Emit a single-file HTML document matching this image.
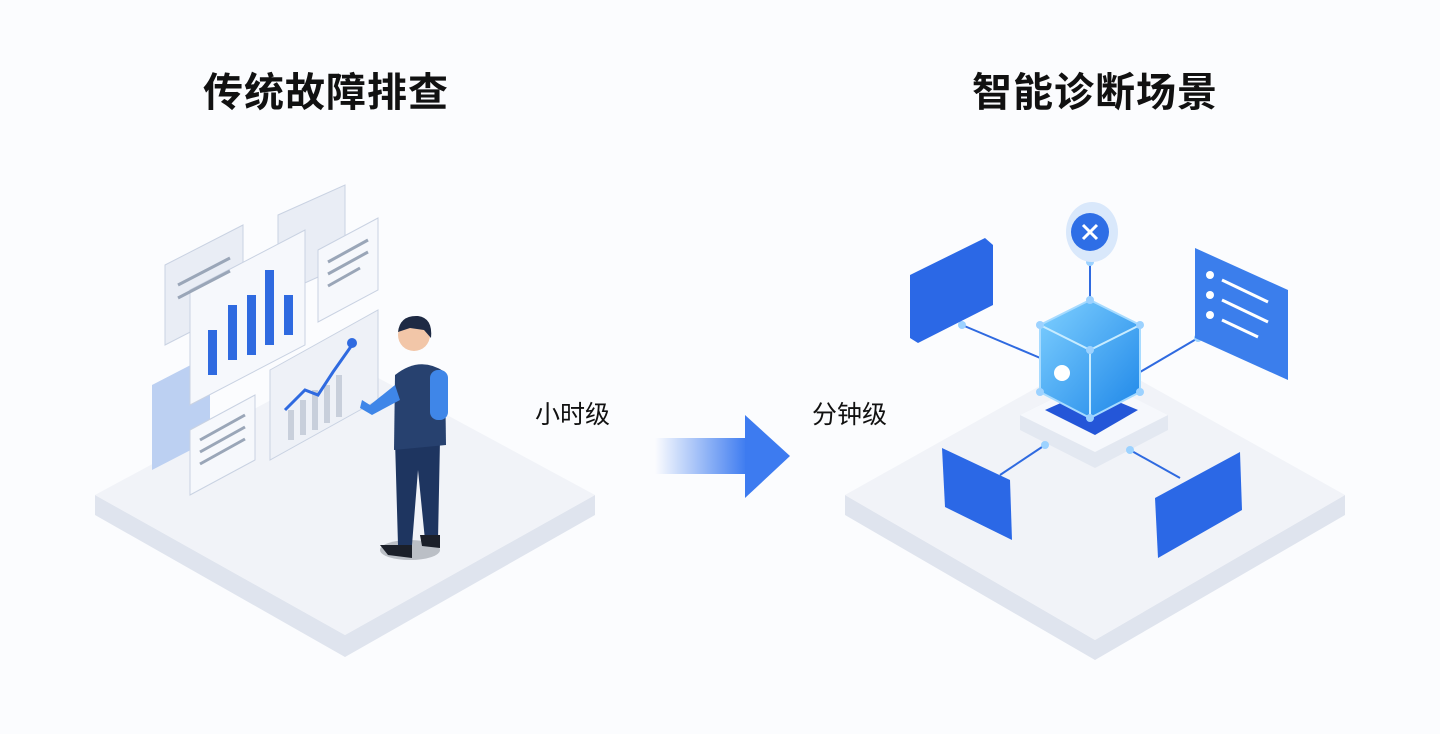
<!DOCTYPE html>
<html><head><meta charset="utf-8"><style>
html,body{margin:0;padding:0;background:#fbfcfe;}
body{width:1440px;height:734px;overflow:hidden;position:relative;font-family:"Liberation Sans","Noto Sans CJK SC",sans-serif;}
.t{position:absolute;font-weight:bold;font-size:40px;color:#111;letter-spacing:1px}
.l{position:absolute;font-size:25px;color:#111}
</style></head><body>
<svg width="1440" height="734" style="position:absolute;left:0;top:0">
<defs>
<linearGradient id="ar" x1="0" x2="1"><stop offset="0" stop-color="#3d7bf0" stop-opacity="0"/><stop offset="1" stop-color="#3d7bf0"/></linearGradient>
<linearGradient id="cube" x1="0" y1="0" x2="1" y2="1"><stop offset="0" stop-color="#7fd0ff"/><stop offset="1" stop-color="#1d86e8"/></linearGradient>
</defs>
<polygon points="95,495 345,635 595,495 595,515 345,657 95,515" fill="#dfe4ee"/>
<polygon points="95,495 345,360 595,495 345,635" fill="#f1f3f8"/>
<polygon points="845,495 1095,640 1345,495 1345,515 1095,660 845,515" fill="#dfe4ee"/>
<polygon points="845,495 1095,355 1345,495 1095,640" fill="#f1f3f8"/>
<polygon points="165,265 243,225 243,305 165,345" fill="#e9edf5" stroke="#c9d2e2"/>
<polygon points="278,215 345,185 345,265 278,295" fill="#e9edf5" stroke="#c9d2e2"/>
<polygon points="152,385 210,355 210,440 152,470" fill="#bcd0f2"/>
<polygon points="190,290 305,230 305,345 190,405" fill="#f6f8fc" stroke="#c9d2e2"/>
<g fill="#2f6ae0"><rect x="208" y="330" width="9" height="45"/><rect x="228" y="305" width="9" height="55"/><rect x="247" y="295" width="9" height="60"/><rect x="265" y="270" width="9" height="75"/><rect x="284" y="295" width="9" height="40"/></g>
<polygon points="318,250 378,218 378,290 318,322" fill="#f6f8fc" stroke="#c9d2e2"/>
<g stroke="#9aa6b8" stroke-width="3"><line x1="328" y1="262" x2="368" y2="240"/><line x1="328" y1="274" x2="368" y2="252"/><line x1="328" y1="286" x2="360" y2="268"/><line x1="178" y1="285" x2="230" y2="258"/><line x1="178" y1="298" x2="230" y2="271"/></g>
<polygon points="270,370 378,310 378,400 270,460" fill="#eef1f7" stroke="#c9d2e2"/>
<g fill="#c8cfdb"><rect x="288" y="410" width="6" height="30"/><rect x="300" y="400" width="6" height="35"/><rect x="312" y="390" width="6" height="40"/><rect x="324" y="385" width="6" height="38"/><rect x="336" y="375" width="6" height="42"/></g>
<polyline points="285,410 305,390 318,395 333,372 352,345" fill="none" stroke="#2f6ae0" stroke-width="3"/><circle cx="352" cy="343" r="5" fill="#2f6ae0"/>
<polygon points="190,430 255,395 255,460 190,495" fill="#f6f8fc" stroke="#c9d2e2"/>
<g stroke="#9aa6b8" stroke-width="3"><line x1="200" y1="440" x2="245" y2="415"/><line x1="200" y1="452" x2="245" y2="427"/><line x1="200" y1="464" x2="245" y2="439"/></g>
<ellipse cx="410" cy="550" rx="30" ry="10" fill="#1b2430" opacity=".25"/>
<path d="M395,440 L440,440 L438,540 L425,540 L418,470 L412,545 L398,545 Z" fill="#1e3560"/>
<path d="M380,545 L412,545 L412,558 L388,555Z M420,535 L440,535 L440,548 L422,546Z" fill="#1b1f29"/>
<path d="M395,375 Q420,355 445,372 L446,445 L394,450 Z" fill="#27416f"/>
<path d="M395,385 L370,405 L362,400 L360,408 L372,415 L400,400Z" fill="#3f86e8"/>
<rect x="430" y="370" width="18" height="50" rx="8" fill="#3f86e8"/>
<circle cx="414" cy="335" r="16" fill="#f2c6a8"/>
<path d="M398,332 Q400,315 418,316 Q433,318 431,338 L424,330 L410,328 Z" fill="#1e2a44"/>
<rect x="655" y="438" width="92" height="36" fill="url(#ar)"/>
<polygon points="745,415 790,456 745,498" fill="#3d7bf0"/>
<polygon points="1020,415 1095,378 1168,415 1168,430 1095,468 1020,430" fill="#e3e8f1"/>
<polygon points="1020,415 1095,378 1168,415 1095,452" fill="#f6f8fc"/>
<polygon points="1045,410 1090,390 1138,410 1095,435" fill="#2456d8"/>
<g stroke="#2f6ae0" stroke-width="2" fill="none">
<line x1="1090" y1="262" x2="1090" y2="300"/><line x1="962" y1="325" x2="1045" y2="360"/><line x1="1198" y1="338" x2="1135" y2="375"/>
<line x1="1045" y1="445" x2="1000" y2="475"/><line x1="1130" y1="450" x2="1180" y2="478"/></g>
<polygon points="1040,325 1090,300 1140,325 1140,392 1090,418 1040,392" fill="url(#cube)" stroke="#a7dbff" stroke-width="2"/>
<line x1="1090" y1="350" x2="1090" y2="418" stroke="#c8ecff" stroke-width="2"/>
<polyline points="1040,325 1090,350 1140,325" fill="none" stroke="#c8ecff" stroke-width="2"/>
<circle cx="1062" cy="373" r="8" fill="#fff"/>
<g fill="#9cd2ff"><circle cx="1040" cy="325" r="4"/><circle cx="1140" cy="325" r="4"/><circle cx="1090" cy="300" r="4"/><circle cx="1040" cy="392" r="4"/><circle cx="1140" cy="392" r="4"/><circle cx="1090" cy="418" r="4"/><circle cx="1090" cy="350" r="4"/><circle cx="962" cy="325" r="4"/><circle cx="1198" cy="338" r="4"/><circle cx="1045" cy="445" r="4"/><circle cx="1130" cy="450" r="4"/><circle cx="1090" cy="262" r="4"/></g>
<ellipse cx="1092" cy="232" rx="26" ry="30" fill="#d9e8fb"/>
<circle cx="1090" cy="232" r="19" fill="#2e6ee6"/>
<path d="M1083,225 L1097,239 M1097,225 L1083,239" stroke="#fff" stroke-width="3"/>
<polygon points="910,275 985,238 993,245 993,305 918,343 910,338" fill="#2b68e6"/>
<polygon points="1195,248 1288,290 1288,380 1195,338" fill="#3b7eec"/>
<g fill="#fff"><circle cx="1210" cy="275" r="4"/><circle cx="1210" cy="295" r="4"/><circle cx="1210" cy="315" r="4"/></g>
<g stroke="#fff" stroke-width="3"><line x1="1222" y1="280" x2="1268" y2="302"/><line x1="1222" y1="300" x2="1268" y2="322"/><line x1="1222" y1="320" x2="1258" y2="337"/></g>
<polygon points="942,448 1010,480 1012,540 945,507" fill="#2b68e6"/>
<polygon points="1155,498 1240,452 1242,510 1158,558" fill="#2b68e6"/>
</svg>
<div class="t" style="left:203px;top:60px">传统故障排查</div>
<div class="t" style="left:972px;top:60px">智能诊断场景</div>
<div class="l" style="left:535px;top:395px">小时级</div>
<div class="l" style="left:812px;top:395px">分钟级</div>
</body></html>
